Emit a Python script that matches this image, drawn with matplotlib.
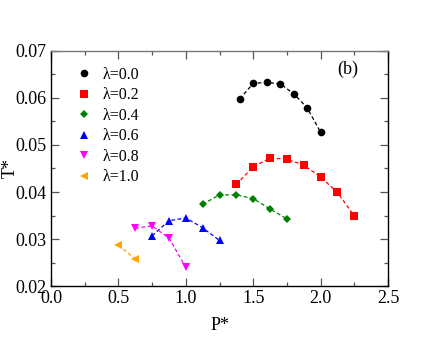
import matplotlib
matplotlib.use("Agg")
import matplotlib.pyplot as plt
from matplotlib.ticker import MultipleLocator

plt.rcParams['font.family'] = ['Liberation Serif', 'DejaVu Serif']
plt.rcParams['mathtext.fontset'] = 'stix'

labels = ["λ=0.0", "λ=0.2", "λ=0.4", "λ=0.6", "λ=0.8", "λ=1.0"]
colors = ["black", "red", "green", "blue", "magenta", "orange"]
markers = ["o", "s", "D", "^", "v", "<"]
msizes = [5.5, 5.5, 4.0, 5.5, 5.5, 5.5]

p0 = [1.4, 1.5, 1.6, 1.7, 1.8, 1.9, 2.0]
t0 = [0.0598, 0.0631, 0.0633, 0.0630, 0.0609, 0.0579, 0.0527]
p2 = [1.375, 1.5, 1.625, 1.75, 1.875, 2.0, 2.125, 2.25]
t2 = [0.0416, 0.0454, 0.0472, 0.0470, 0.0457, 0.0432, 0.0399, 0.0349]
p4 = [1.125, 1.25, 1.375, 1.5, 1.625, 1.75]
t4 = [0.0374, 0.0394, 0.0394, 0.0386, 0.0364, 0.0343]
p6 = [0.75, 0.875, 1.0, 1.125, 1.25]
t6 = [0.0307, 0.0339, 0.0345, 0.0324, 0.0297]
p8 = [0.625, 0.75, 0.875, 1.0]
t8 = [0.0323, 0.0328, 0.0302, 0.0240]
p10 = [0.5, 0.625]
t10 = [0.0287, 0.0258]

P = [p0, p2, p4, p6, p8, p10]
T = [t0, t2, t4, t6, t8, t10]

fig = plt.figure(figsize=(4.36, 3.37), dpi=100)
ax = fig.add_axes([0.117, 0.151, 0.773, 0.698])

handles = []
for x, y, c, m, ms, lab in zip(P, T, colors, markers, msizes, labels):
    ax.plot(x, y, linestyle=(0, (3, 2)), color=c, linewidth=0.9)
    h, = ax.plot(x, y, linestyle='none', marker=m, color=c, markersize=ms,
                 markeredgewidth=0, label=lab)
    handles.append(h)

ax.set_xlim(0, 2.5)
ax.set_ylim(0.02, 0.07)
ax.xaxis.set_major_locator(MultipleLocator(0.5))
ax.xaxis.set_minor_locator(MultipleLocator(0.25))
ax.yaxis.set_major_locator(MultipleLocator(0.01))
ax.yaxis.set_minor_locator(MultipleLocator(0.005))
ax.set_xticklabels([f"{v:.1f}" for v in ax.get_xticks()])
ax.set_yticklabels([f"{v:.2f}" for v in ax.get_yticks()])
ax.tick_params(which='both', direction='in', top=True, right=True, labelsize=13, color='#555555')
ax.tick_params(which='major', length=6, width=0.9, pad=3)
ax.tick_params(which='minor', length=3, width=0.9)
for s in ax.spines.values():
    s.set_linewidth(1.0)
ax.spines['top'].set_color('#777777')

ax.set_xlabel("P*", fontsize=13)
ax.xaxis.set_label_coords(0.5, -0.13)
ax.set_ylabel("T*", fontsize=13)
ax.yaxis.set_label_coords(-0.097, 0.5)

ax.legend(handles=handles, loc='upper left', frameon=False, fontsize=11.5,
          handletextpad=0.4, labelspacing=0.28, borderaxespad=0.3,
          handlelength=1.5, bbox_to_anchor=(0.03, 0.98))
ax.text(0.88, 0.92, "(b)", transform=ax.transAxes, fontsize=13, ha='center', va='center')

fig.savefig("out.png", dpi=100)
